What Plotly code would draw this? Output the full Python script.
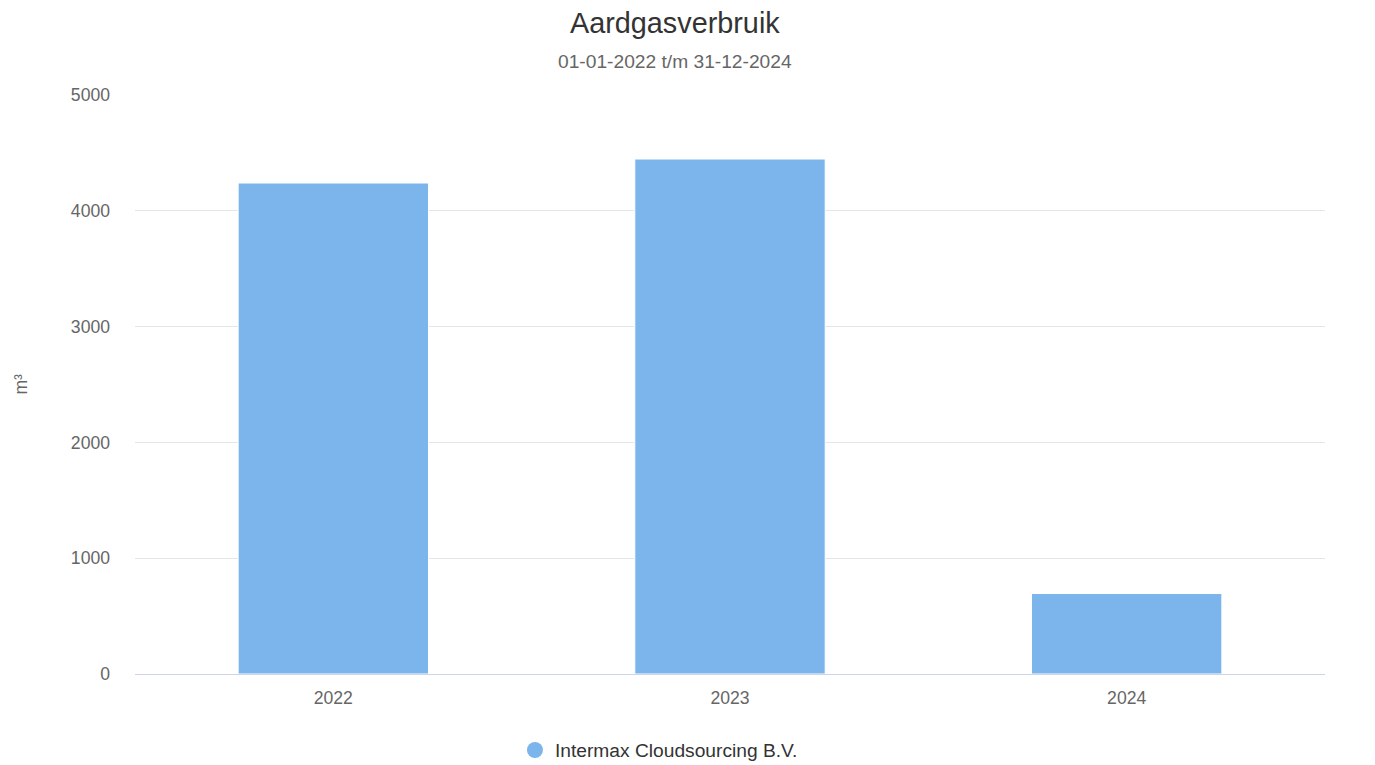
import plotly.graph_objects as go

jaren = ["2022", "2023", "2024"]
verbruik = [4240, 4447, 695]
reeks_naam = "Intermax Cloudsourcing B.V."
titel = "Aardgasverbruik"
subtitel = "01-01-2022 t/m 31-12-2024"
eenheid = "m³"

fig = go.Figure()
fig.add_trace(go.Bar(
    x=jaren,
    y=verbruik,
    name=reeks_naam,
    marker=dict(color="#7cb5ec", line=dict(color="#ffffff", width=1)),
    width=0.48,
    showlegend=False,
))

# legend marker as a circle via an empty scatter
fig.add_trace(go.Scatter(
    x=[None], y=[None], mode="markers", name=reeks_naam,
    marker=dict(color="#7cb5ec", size=19, symbol="circle"),
))

fig.update_layout(
    width=1375, height=765,
    margin=dict(l=135, r=50, t=95, b=91),
    plot_bgcolor="white", paper_bgcolor="white",
    font=dict(family="Liberation Sans, Arial, sans-serif", color="#666666", size=17.6),
    xaxis=dict(
        showgrid=False, showline=True, linecolor="#ccd6eb", linewidth=1,
        ticks="", tickfont=dict(size=17.6, color="#666666"), ticklabelstandoff=8,
    ),
    yaxis=dict(
        range=[0, 5000], tickvals=[0, 1000, 2000, 3000, 4000, 5000],
        gridcolor="#e6e6e6", gridwidth=1, zeroline=False,
        tickfont=dict(size=17.6, color="#666666"), ticklabelstandoff=24,
    ),
    legend=dict(
        orientation="h", x=0.4403, xanchor="center",
        yref="container", y=0.0196, yanchor="middle",
        font=dict(size=19.2, color="#333333"),
    ),
    annotations=[
        dict(text=titel, xref="paper", yref="paper", x=0.4538, y=1.1244,
             xanchor="center", yanchor="middle", showarrow=False,
             font=dict(size=28.8, color="#333333")),
        dict(text=subtitel, xref="paper", yref="paper", x=0.4538, y=1.057,
             xanchor="center", yanchor="middle", showarrow=False,
             font=dict(size=19.2, color="#666666")),
        dict(text=eenheid, xref="paper", yref="paper", x=-0.0966, y=0.5,
             xanchor="center", yanchor="middle", showarrow=False, textangle=-90,
             font=dict(size=17.6, color="#666666")),
    ],
)

fig.write_html("out.html", config={"displayModeBar": False},
               post_script="document.body.style.margin='0';")
